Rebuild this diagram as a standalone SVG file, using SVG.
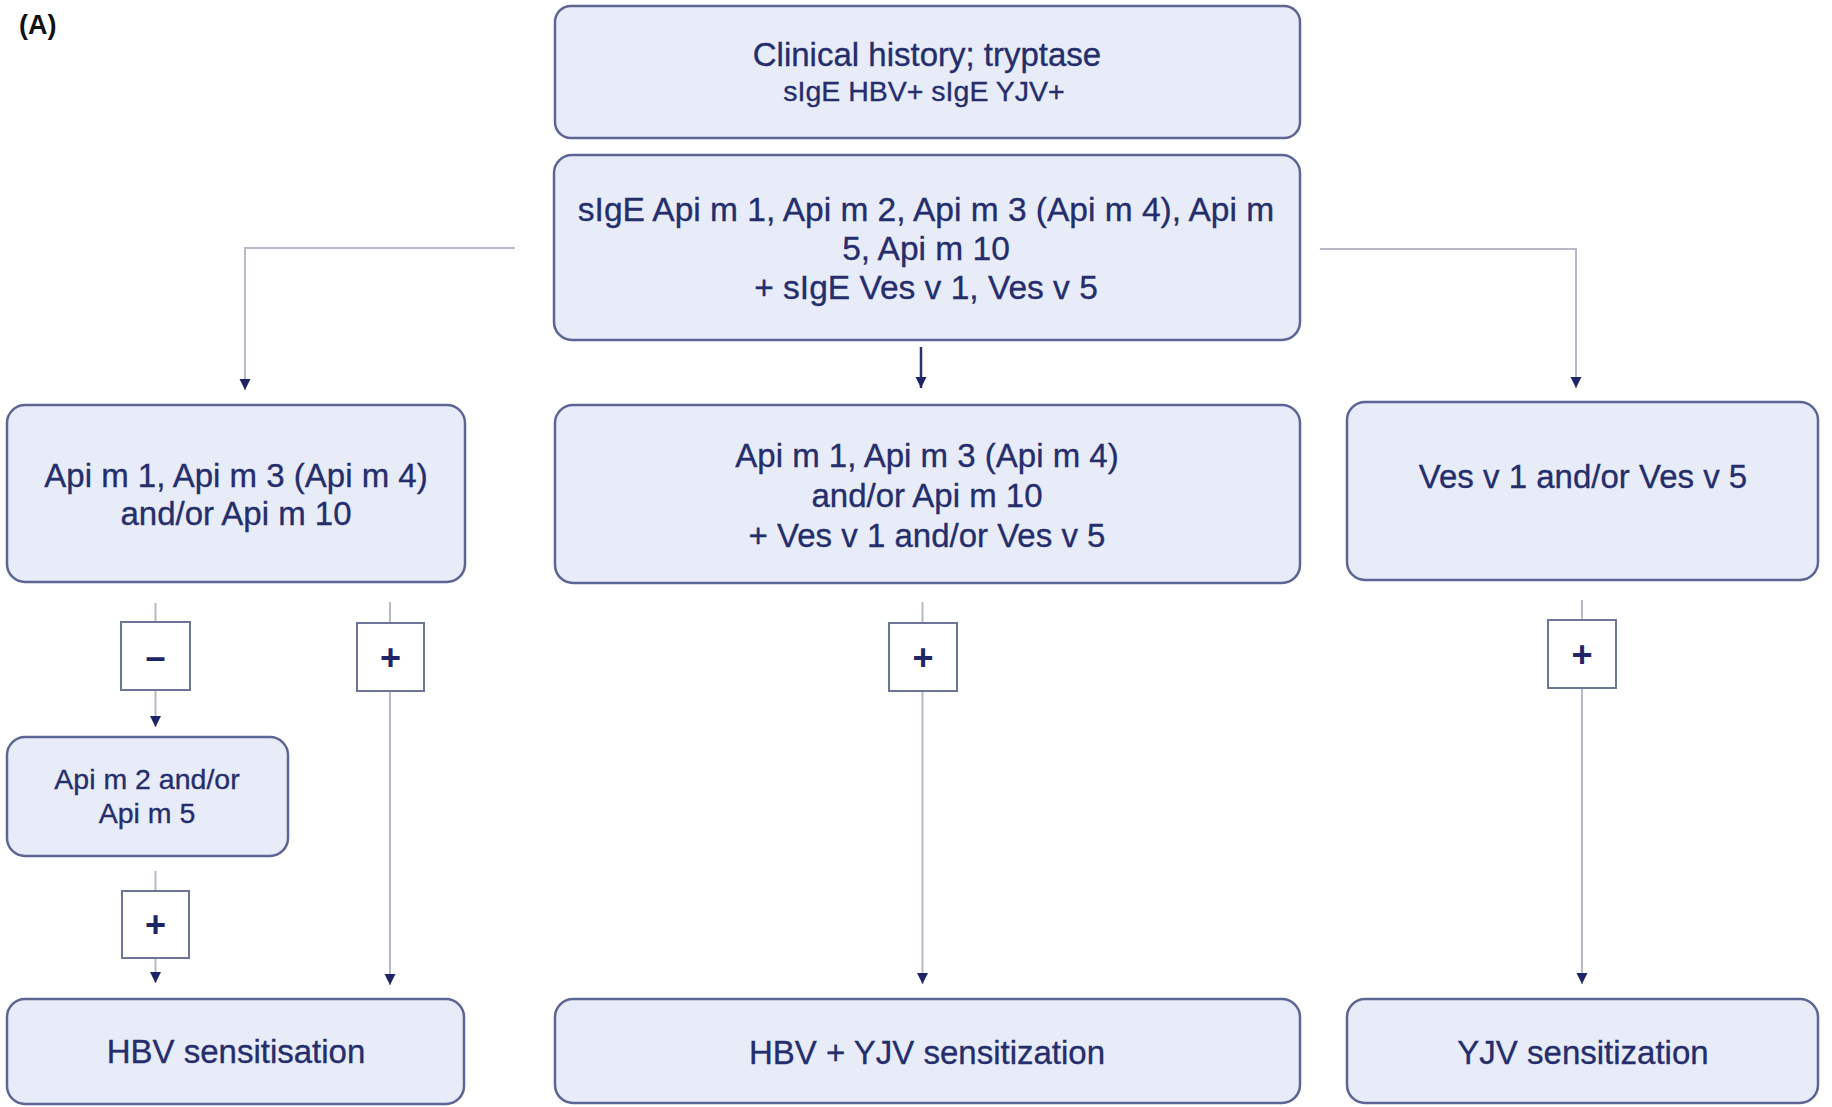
<svg xmlns="http://www.w3.org/2000/svg" width="1832" height="1107" viewBox="0 0 1832 1107">
<defs>
<style>
.box{fill:#e8ecf8;stroke:#5c6594;stroke-width:2.5}
.sign{fill:#ffffff;stroke:#6d7598;stroke-width:2}
.t{font-family:"Liberation Sans",Arial,Helvetica,sans-serif;fill:#252e6c;stroke:#252e6c;stroke-width:0.35;text-anchor:middle}
.s{font-family:"Liberation Sans",Arial,Helvetica,sans-serif;fill:#1d2566;text-anchor:middle;font-weight:bold;font-size:36px}
.c{fill:none;stroke:#b7bac6;stroke-width:2}
.cd{fill:none;stroke:#28306e;stroke-width:2.5}
</style>
<marker id="ah" markerUnits="userSpaceOnUse" markerWidth="12" markerHeight="12" refX="11" refY="5.5" orient="auto">
<path d="M0,0 L11,5.5 L0,11 z" fill="#1d2566"/>
</marker>
</defs>
<rect width="1832" height="1107" fill="#ffffff"/>
<text x="19" y="34" font-family="Liberation Sans,Arial,sans-serif" font-weight="bold" font-size="27" fill="#111111">(A)</text>

<g id="connectors">
<polyline class="c" points="515,248 245,248 245,390" marker-end="url(#ah)"/>
<polyline class="c" points="1320,249 1576,249 1576,388" marker-end="url(#ah)"/>
<line class="cd" x1="921" y1="347" x2="921" y2="388" marker-end="url(#ah)"/>
<line class="c" x1="155.5" y1="603" x2="155.5" y2="622"/>
<line class="c" x1="155.5" y1="690" x2="155.5" y2="727" marker-end="url(#ah)"/>
<line class="c" x1="390" y1="602" x2="390" y2="623"/>
<line class="c" x1="390" y1="691" x2="390" y2="985" marker-end="url(#ah)"/>
<line class="c" x1="155.5" y1="871" x2="155.5" y2="891"/>
<line class="c" x1="155.5" y1="958" x2="155.5" y2="983" marker-end="url(#ah)"/>
<line class="c" x1="922.5" y1="602" x2="922.5" y2="623"/>
<line class="c" x1="922.5" y1="691" x2="922.5" y2="984" marker-end="url(#ah)"/>
<line class="c" x1="1582" y1="600" x2="1582" y2="620"/>
<line class="c" x1="1582" y1="688" x2="1582" y2="984" marker-end="url(#ah)"/>
</g>

<g id="n-history">
<rect class="box" x="555" y="6" width="745" height="132" rx="16"/>
<text class="t" x="927" y="66" font-size="33">Clinical history; tryptase</text>
<text class="t" x="924" y="101" font-size="28.5">sIgE HBV+ sIgE YJV+</text>
</g>

<g id="n-components">
<rect class="box" x="554" y="155" width="746" height="185" rx="18"/>
<text class="t" x="926" y="221" font-size="33.5">sIgE Api m 1, Api m 2, Api m 3 (Api m 4), Api m</text>
<text class="t" x="926" y="260" font-size="33.5">5, Api m 10</text>
<text class="t" x="926" y="299" font-size="33.5">+ sIgE Ves v 1, Ves v 5</text>
</g>

<g id="n-api">
<rect class="box" x="7" y="405" width="458" height="177" rx="18"/>
<text class="t" x="236" y="487" font-size="33">Api m 1, Api m 3 (Api m 4)</text>
<text class="t" x="236" y="525" font-size="33">and/or Api m 10</text>
</g>

<g id="n-both">
<rect class="box" x="555" y="405" width="745" height="178" rx="18"/>
<text class="t" x="927" y="467" font-size="33">Api m 1, Api m 3 (Api m 4)</text>
<text class="t" x="927" y="507" font-size="33">and/or Api m 10</text>
<text class="t" x="927" y="547" font-size="33">+ Ves v 1 and/or Ves v 5</text>
</g>

<g id="n-ves">
<rect class="box" x="1347" y="402" width="471" height="178" rx="18"/>
<text class="t" x="1583" y="488" font-size="33">Ves v 1 and/or Ves v 5</text>
</g>

<g id="s-minus">
<rect class="sign" x="121" y="622" width="69" height="68"/>
<text class="s" x="155.5" y="669" font-weight="normal" font-size="42">–</text>
</g>
<g id="s-plus-left">
<rect class="sign" x="357" y="623" width="67" height="68"/>
<text class="s" x="390.5" y="670">+</text>
</g>
<g id="s-plus-center">
<rect class="sign" x="889" y="623" width="68" height="68"/>
<text class="s" x="923" y="670">+</text>
</g>
<g id="s-plus-right">
<rect class="sign" x="1548" y="620" width="68" height="68"/>
<text class="s" x="1582" y="667">+</text>
</g>

<g id="n-api25">
<rect class="box" x="7" y="737" width="281" height="119" rx="18"/>
<text class="t" x="147" y="789" font-size="28.5">Api m 2 and/or</text>
<text class="t" x="147" y="823" font-size="28.5">Api m 5</text>
</g>

<g id="s-plus-lower">
<rect class="sign" x="122" y="891" width="67" height="67"/>
<text class="s" x="155.5" y="937">+</text>
</g>

<g id="n-hbv">
<rect class="box" x="7" y="999" width="457" height="105" rx="18"/>
<text class="t" x="236" y="1063" font-size="33">HBV sensitisation</text>
</g>
<g id="n-hbv-yjv">
<rect class="box" x="555" y="999" width="745" height="104" rx="18"/>
<text class="t" x="927" y="1064" font-size="33">HBV + YJV sensitization</text>
</g>
<g id="n-yjv">
<rect class="box" x="1347" y="999" width="471" height="104" rx="18"/>
<text class="t" x="1583" y="1064" font-size="33">YJV sensitization</text>
</g>
</svg>
